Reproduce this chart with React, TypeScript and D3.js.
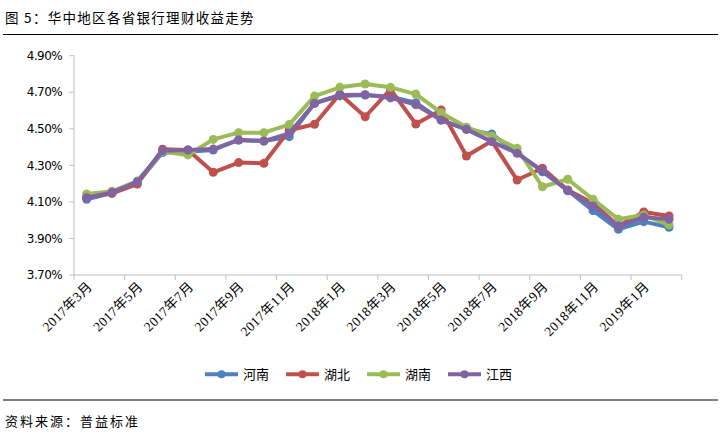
import React from "react";
import * as d3 from "d3";

const months = [
  "2017年3月","2017年4月","2017年5月","2017年6月","2017年7月","2017年8月","2017年9月","2017年10月",
  "2017年11月","2017年12月","2018年1月","2018年2月","2018年3月","2018年4月","2018年5月","2018年6月",
  "2018年7月","2018年8月","2018年9月","2018年10月","2018年11月","2018年12月","2019年1月","2019年2月",
];

const henan = [4.114,4.148,4.205,4.370,4.375,4.384,4.439,4.433,4.457,4.640,4.680,4.685,4.676,4.643,4.548,4.497,4.471,4.370,4.265,4.163,4.052,3.950,3.992,3.961];
const hubei = [4.125,4.147,4.197,4.388,4.384,4.262,4.315,4.311,4.492,4.525,4.690,4.566,4.716,4.526,4.603,4.351,4.433,4.220,4.284,4.165,4.092,3.968,4.045,4.023];
const hunan = [4.143,4.158,4.214,4.375,4.357,4.442,4.479,4.479,4.523,4.679,4.727,4.745,4.727,4.690,4.588,4.508,4.461,4.393,4.183,4.224,4.114,4.005,4.028,3.974];
const jiangxi = [4.123,4.152,4.210,4.380,4.384,4.389,4.439,4.433,4.475,4.640,4.685,4.687,4.669,4.632,4.548,4.497,4.430,4.366,4.271,4.161,4.078,3.968,4.016,4.005];

const seriesNames = ["河南", "湖北", "湖南", "江西"];
const seriesColors = ["#4F81BD", "#C0504D", "#9BBB59", "#8064A2"];
const seriesData = [henan, hubei, hunan, jiangxi];

const yTicks = [3.7, 3.9, 4.1, 4.3, 4.5, 4.7, 4.9];

const W = 723;
const H = 433;
const left = 74;
const right = 681.7;
const top = 55.7;
const bottom = 275;

const cjk = "'Noto Sans CJK SC', sans-serif";
const serifCjk = "'Liberation Serif', 'Noto Sans CJK SC', serif";

export default function App() {
  const x = d3.scaleBand<string>().domain(months).range([left, right]).paddingInner(0).paddingOuter(0);
  const y = d3.scaleLinear().domain([3.7, 4.9]).range([bottom, top]);
  const cx = (i: number) => (x(months[i]) as number) + x.bandwidth() / 2;
  const line = d3
    .line<number>()
    .x((_, i) => cx(i))
    .y((d) => y(d));

  const tickIdx = months.map((_, i) => i).filter((i) => i % 2 === 0);
  const boundaries = [...tickIdx.map((i) => x(months[i]) as number), right];

  const axisColor = "#BFBFBF";

  return (
    <svg width={W} height={H} style={{ position: "absolute", left: 0, top: 0, background: "#fff" }}>
      <rect x={0} y={0} width={W} height={H} fill="#fff" />
      <text x={5} y={23} fontFamily={cjk} fontSize={13.5} letterSpacing={1.3} fill="#000">
        图 5：华中地区各省银行理财收益走势
      </text>
      <line x1={3} x2={718} y1={34.5} y2={34.5} stroke="#000" strokeWidth={1.2} />

      {/* y axis */}
      <line x1={left} x2={left} y1={top} y2={bottom} stroke={axisColor} strokeWidth={1} />
      {yTicks.map((t) => (
        <g key={t}>
          <line x1={left - 5} x2={left} y1={y(t)} y2={y(t)} stroke={axisColor} />
          <text
            x={62}
            y={y(t)}
            dy="0.35em"
            textAnchor="end"
            fontFamily="'DejaVu Sans', sans-serif"
            fontSize={12}
            letterSpacing={-0.6}
            fill="#000"
          >
            {t.toFixed(2)}%
          </text>
        </g>
      ))}

      {/* x axis */}
      <line x1={left} x2={right} y1={bottom} y2={bottom} stroke={axisColor} strokeWidth={1} />
      {boundaries.map((b, k) => (
        <line key={k} x1={b} x2={b} y1={bottom} y2={bottom + 5} stroke={axisColor} />
      ))}
      {tickIdx.map((i) => (
        <text
          key={i}
          transform={`translate(${cx(i) + 3},${bottom + 9}) rotate(-45)`}
          textAnchor="end"
          dy="0.35em"
          fontFamily={serifCjk}
          fontSize={13.5}
          letterSpacing={0.4}
          fill="#000"
        >
          {months[i]}
        </text>
      ))}

      {/* series */}
      {seriesData.map((data, s) => (
        <g key={s}>
          <path d={line(data) as string} fill="none" stroke={seriesColors[s]} strokeWidth={4} strokeLinejoin="round" />
          {data.map((d, i) => (
            <circle key={i} cx={cx(i)} cy={y(d)} r={4.5} fill={seriesColors[s]} />
          ))}
        </g>
      ))}

      {/* legend */}
      {seriesNames.map((n, s) => {
        const lx = 205 + s * 81;
        const ly = 374.3;
        return (
          <g key={n}>
            <line x1={lx} x2={lx + 33} y1={ly} y2={ly} stroke={seriesColors[s]} strokeWidth={4} />
            <circle cx={lx + 16.5} cy={ly} r={4} fill={seriesColors[s]} />
            <text x={lx + 38} y={ly} dy="0.36em" fontFamily={cjk} fontSize={13} fill="#000">
              {n}
            </text>
          </g>
        );
      })}

      <line x1={3} x2={718} y1={400} y2={400} stroke="#000" strokeWidth={1.2} />
      <text x={5} y={426} fontFamily={cjk} fontSize={13} letterSpacing={2} fill="#000">
        资料来源：普益标准
      </text>
    </svg>
  );
}
